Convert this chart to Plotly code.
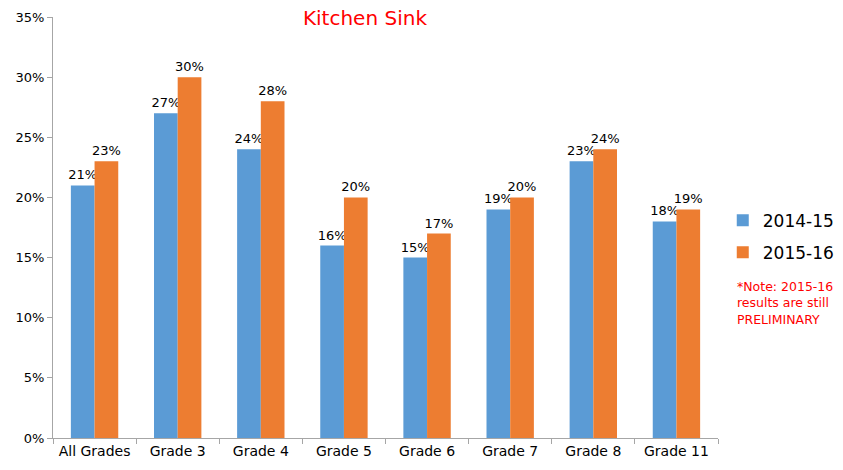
import plotly.graph_objects as go

grades = ['All Grades', 'Grade 3', 'Grade 4', 'Grade 5', 'Grade 6', 'Grade 7', 'Grade 8', 'Grade 11']
y2014 = [0.21, 0.27, 0.24, 0.16, 0.15, 0.19, 0.23, 0.18]
y2015 = [0.23, 0.30, 0.28, 0.20, 0.17, 0.20, 0.24, 0.19]

font_family = 'Tahoma, Verdana, DejaVu Sans, sans-serif'

fig = go.Figure()

# one bar per year and grade
fig.add_trace(go.Bar(
    x=grades, y=y2014, name='2014-15', legendgroup='a',
    marker=dict(color='#5B9BD5', line=dict(width=0)),
    texttemplate='%{y:.0%}', textposition='outside', constraintext='none',
    textfont=dict(size=13, color='black'),
    cliponaxis=False,
))
fig.add_trace(go.Bar(
    x=grades, y=y2015, name='2015-16', legendgroup='b',
    marker=dict(color='#ED7D31', line=dict(width=0)),
    texttemplate='%{y:.0%}', textposition='outside', constraintext='none',
    textfont=dict(size=13, color='black'),
    cliponaxis=False,
))

# page body adds an 8px margin, so the figure is a bit smaller than the window
fig.update_layout(
    width=835, height=462,
    margin=dict(l=45, r=125, t=9, b=32, autoexpand=False),
    plot_bgcolor='white', paper_bgcolor='white',
    barmode='group', bargap=0.43, bargroupgap=0,
    font=dict(family=font_family, size=13, color='black'),
    title=dict(text='Kitchen Sink', x=0.4275, xanchor='center', y=0.993, yanchor='top',
               font=dict(size=20, color='red', family=font_family)),
    legend=dict(xref='container', yref='container', x=0.856, xanchor='left',
                y=0.505, yanchor='middle',
                font=dict(size=17), itemwidth=30, tracegroupgap=7),
    xaxis=dict(
        showline=True, linecolor='#a6a6a6', linewidth=1, tickangle=0, automargin=False,
        ticks='outside', tickson='boundaries', ticklen=5, tickcolor='#a6a6a6',
        showgrid=False, tickfont=dict(size=14),
    ),
    yaxis=dict(
        range=[0, 0.35], dtick=0.05, tickformat='.0%', automargin=False,
        showline=True, linecolor='#a6a6a6', linewidth=1,
        ticks='outside', ticklen=5, tickcolor='#a6a6a6',
        showgrid=False, zeroline=False, tickfont=dict(size=13),
    ),
)

fig.add_annotation(
    text='*Note: 2015-16<br>results are still<br>PRELIMINARY',
    xref='paper', yref='paper', x=1.0256, y=0.382, xanchor='left', yanchor='top',
    align='left', showarrow=False,
    font=dict(size=12.5, color='red', family=font_family),
)

fig.write_html('out.html')
